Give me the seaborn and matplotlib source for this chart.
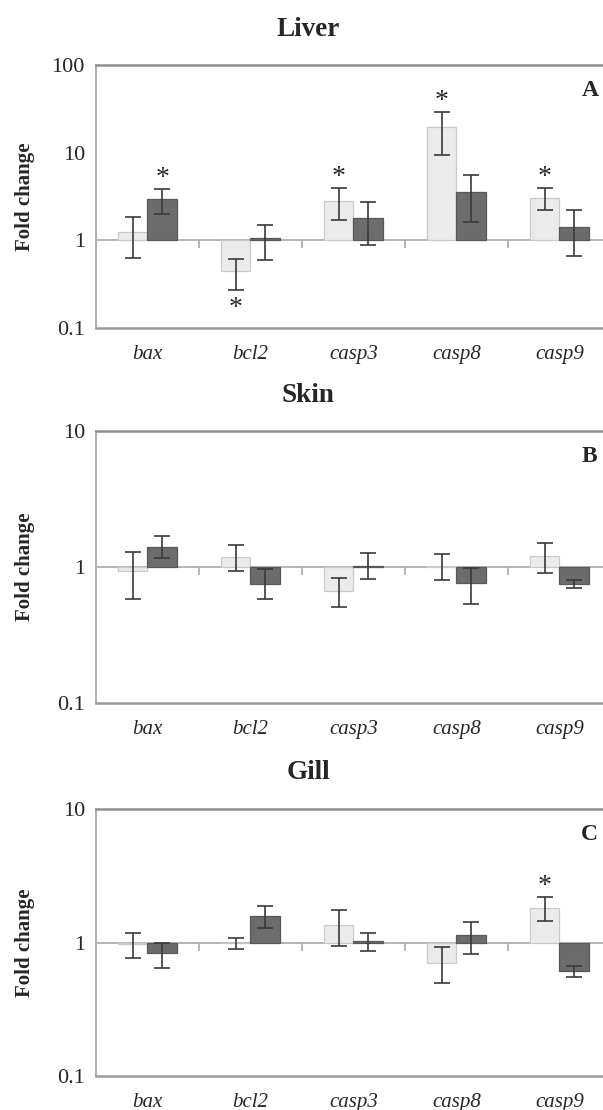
import numpy as np
import pandas as pd
import matplotlib
matplotlib.use("Agg")
import matplotlib.pyplot as plt
import seaborn as sns

# genes on the x axis
genes = ["bax", "bcl2", "casp3", "casp8", "casp9"]
groups = ["T1", "T2"]

# Liver (fold change, error bar low / high)
liver_light = [1.24, 0.45, 2.84, 19.6, 3.07]
liver_light_lo = [0.63, 0.27, 1.71, 9.5, 2.21]
liver_light_hi = [1.87, 0.62, 3.99, 29.0, 3.99]
liver_dark = [2.99, 1.05, 1.78, 3.56, 1.42]
liver_dark_lo = [2.00, 0.59, 0.89, 1.61, 0.66]
liver_dark_hi = [3.85, 1.49, 2.72, 5.55, 2.24]
liver_light_sig = [0, 1, 1, 1, 1]
liver_dark_sig = [1, 0, 0, 0, 0]

# Skin
skin_light = [0.93, 1.19, 0.67, 1.01, 1.20]
skin_light_lo = [0.58, 0.93, 0.51, 0.80, 0.91]
skin_light_hi = [1.29, 1.45, 0.83, 1.25, 1.51]
skin_dark = [1.41, 0.75, 1.02, 0.76, 0.75]
skin_dark_lo = [1.17, 0.58, 0.82, 0.53, 0.70]
skin_dark_hi = [1.70, 0.96, 1.26, 0.98, 0.80]
skin_light_sig = [0, 0, 0, 0, 0]
skin_dark_sig = [0, 0, 0, 0, 0]

# Gill
gill_light = [0.98, 0.99, 1.36, 0.70, 1.82]
gill_light_lo = [0.77, 0.90, 0.94, 0.50, 1.44]
gill_light_hi = [1.18, 1.08, 1.76, 0.92, 2.18]
gill_dark = [0.84, 1.59, 1.03, 1.13, 0.61]
gill_dark_lo = [0.65, 1.29, 0.87, 0.82, 0.55]
gill_dark_hi = [0.99, 1.87, 1.18, 1.43, 0.67]
gill_light_sig = [0, 0, 0, 0, 1]
gill_dark_sig = [0, 0, 0, 0, 0]

sns.set_style("white")
plt.rcParams["font.family"] = ["Liberation Serif", "DejaVu Serif"]

light_col = "#ebebeb"
dark_col = "#6c6c6c"


def draw_panel(ax, title, letter, light, light_lo, light_hi, dark, dark_lo, dark_hi,
               light_sig, dark_sig, ymin, ymax, title_y):
    df = pd.DataFrame({
        "gene": genes * 2,
        "group": [groups[0]] * len(genes) + [groups[1]] * len(genes),
        "fc": light + dark,
    })
    df["log_fc"] = np.log10(df["fc"])

    sns.barplot(data=df, x="gene", y="log_fc", hue="group", order=genes,
                hue_order=groups, palette=[light_col, dark_col], width=0.575,
                errorbar=None, legend=False, saturation=1, ax=ax, zorder=2)

    edges = ["#c9c9c9", "#585858"]
    series = [(light, light_lo, light_hi, light_sig), (dark, dark_lo, dark_hi, dark_sig)]
    for cont, edge, (vals, lo, hi, sig) in zip(ax.containers, edges, series):
        xs = []
        for bar in cont:
            bar.set_edgecolor(edge)
            bar.set_linewidth(0.9)
            xs.append(bar.get_x() + bar.get_width() / 2)
        v = np.log10(vals)
        l = np.log10(lo)
        h = np.log10(hi)
        ax.errorbar(xs, v, yerr=[v - l, h - v], fmt="none", ecolor="#3a3a3a",
                    elinewidth=1.2, capsize=5.5, capthick=1.2, zorder=3)
        for x, val, ll, hh, s in zip(xs, vals, l, h, sig):
            if not s:
                continue
            if val >= 1:
                ax.annotate("*", (x, hh), xytext=(0, 3), textcoords="offset points",
                            ha="center", va="baseline", fontsize=20)
            else:
                ax.annotate("*", (x, ll), xytext=(0, -4), textcoords="offset points",
                            ha="center", va="top", fontsize=20)

    ax.set_ylim(ymin, ymax)
    ax.set_xlim(-0.5, len(genes) - 0.5)
    yt = np.arange(ymin, ymax + 1)
    ax.set_yticks(yt)
    ax.set_yticklabels([f"{10.0 ** t:g}" for t in yt])
    ax.set_xlabel("")
    ax.set_ylabel("")

    # line at fold change 1 and small separators between genes
    ax.axhline(0, color="#a9a9a9", lw=1.2, zorder=1)
    h_px = ax.get_position().height * fig.get_figheight() * fig.dpi
    dy = (ymax - ymin) * 8 / h_px
    ax.vlines(np.arange(len(genes) - 1) + 0.5, -dy, 0, color="#a9a9a9", lw=1.2, zorder=1)

    ax.tick_params(axis="y", length=6, width=1, color="#a0a0a0", direction="out",
                   pad=2, labelsize=16)
    ax.tick_params(axis="x", length=0, pad=12, labelsize=15)
    for lbl in ax.get_xticklabels():
        lbl.set_style("italic")

    ax.spines["right"].set_visible(False)
    ax.spines["top"].set_color("#8e8e8e")
    ax.spines["top"].set_linewidth(1.8)
    ax.spines["bottom"].set_color("#9a9a9a")
    ax.spines["bottom"].set_linewidth(1.8)
    ax.spines["left"].set_color("#b3b3b3")
    ax.spines["left"].set_linewidth(1.5)

    ax.text(0.959, 0.905, letter, transform=ax.transAxes, ha="center", va="center",
            fontsize=17, fontweight="bold")

    pos = ax.get_position()
    fig.text(0.511, title_y, title, ha="center", va="center", fontsize=19.5,
             fontweight="bold")
    fig.text(0.0415, pos.y0 + pos.height / 2, "Fold change", rotation=90,
             ha="center", va="center", fontsize=15, fontweight="bold")


fig = plt.figure(figsize=(6.03, 11.1), dpi=100)
ax1 = fig.add_axes([0.1592, 0.7045, 0.854, 0.2369])
ax2 = fig.add_axes([0.1592, 0.3667, 0.854, 0.2450])
ax3 = fig.add_axes([0.1592, 0.0306, 0.854, 0.2405])

draw_panel(ax1, "Liver", "A", liver_light, liver_light_lo, liver_light_hi,
           liver_dark, liver_dark_lo, liver_dark_hi, liver_light_sig, liver_dark_sig,
           -1, 2, 0.9735)
draw_panel(ax2, "Skin", "B", skin_light, skin_light_lo, skin_light_hi,
           skin_dark, skin_dark_lo, skin_dark_hi, skin_light_sig, skin_dark_sig,
           -1, 1, 0.644)
draw_panel(ax3, "Gill", "C", gill_light, gill_light_lo, gill_light_hi,
           gill_dark, gill_dark_lo, gill_dark_hi, gill_light_sig, gill_dark_sig,
           -1, 1, 0.3045)

fig.savefig("out.png", dpi=100)
